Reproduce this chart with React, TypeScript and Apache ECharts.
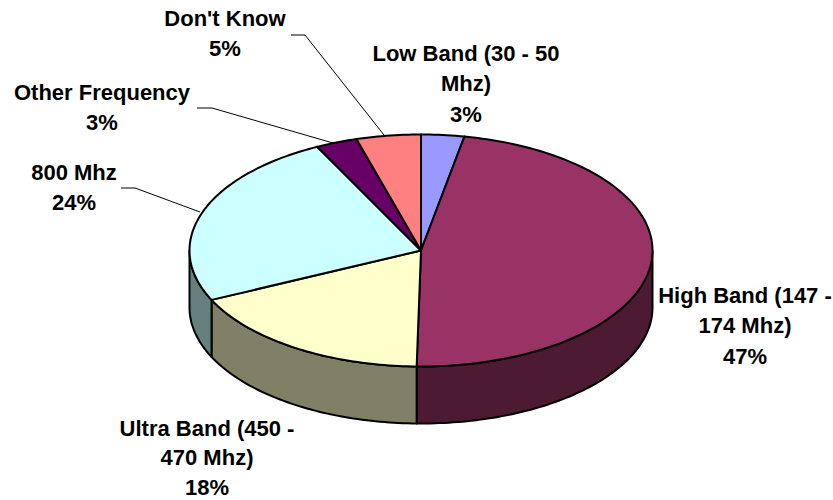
import React, { useEffect, useRef } from "react";
import * as echarts from "echarts";

const categories = ["Low Band (30 - 50\nMhz)", "High Band (147 -\n174 Mhz)", "Ultra Band (450 -\n470 Mhz)", "800 Mhz", "Other Frequency", "Don't Know"];
const values = [3, 47.3, 17.7, 24.6, 2.9, 4.5];
const percentLabels = ["3%", "47%", "18%", "24%", "3%", "5%"];
const topColors = ["#9999FF", "#993366", "#FFFFCC", "#CCFFFF", "#660066", "#FF8080"];
const sideColors = ["#4D4D80", "#4D1A33", "#808066", "#668080", "#330033", "#804040"];

const CX = 421, CY = 250.5, RX = 231.5, RY = 116, DEPTH = 57;
const labelFirstLine: [number, number][] = [[466, 53], [745, 295], [207, 428], [74, 172], [102, 92], [225, 18]];
const labelLineSteps = [30.5, 30.5, 29.5, 30.5, 30.5, 30.5];
const leaders: number[][][] = [
  [],
  [],
  [],
  [[121, 188], [135, 188], [200, 212]],
  [[197, 108], [212, 108], [333, 143]],
  [[291, 35], [305, 35], [384, 135]],
];

const total = values.reduce((a, b) => a + b, 0);
const bounds: [number, number][] = [];
{
  let acc = 0;
  for (const v of values) {
    bounds.push([(acc / total) * Math.PI * 2, ((acc + v) / total) * Math.PI * 2]);
    acc += v;
  }
}
const pt = (t: number, dy = 0): number[] => [CX + RX * Math.sin(t), CY - RY * Math.cos(t) + dy];
const arc = (a: number, b: number, dy = 0): number[][] => {
  const n = Math.max(2, Math.ceil((b - a) / 0.02));
  const out: number[][] = [];
  for (let i = 0; i <= n; i++) out.push(pt(a + ((b - a) * i) / n, dy));
  return out;
};

const renderTop = (params: any) => {
  const [a, b] = bounds[params.dataIndex];
  return {
    type: "polygon",
    shape: { points: [[CX, CY], ...arc(a, b)] },
    style: { fill: topColors[params.dataIndex], stroke: "#000", lineWidth: 2, lineJoin: "round" },
  };
};
const renderSide = (params: any) => {
  const [a0, b0] = bounds[params.dataIndex];
  const a = Math.max(a0, Math.PI / 2);
  const b = Math.min(b0, Math.PI * 1.5);
  if (b <= a) return { type: "group", children: [] };
  return {
    type: "polygon",
    shape: { points: [...arc(a, b), ...arc(a, b, DEPTH).reverse()] },
    style: { fill: sideColors[params.dataIndex], stroke: "#000", lineWidth: 2, lineJoin: "round" },
  };
};

export default function App() {
  const ref = useRef<HTMLDivElement>(null);
  useEffect(() => {
    const chart = echarts.init(ref.current!, undefined, { renderer: "svg" });
    const data = values.map((v, i) => ({ name: categories[i], value: v }));
    const labelTexts = categories.flatMap((c, i) =>
      [...c.split("\n"), percentLabels[i]].map((line, j) => ({
        type: "text",
        z: 6,
        x: labelFirstLine[i][0],
        y: labelFirstLine[i][1] + j * labelLineSteps[i],
        style: {
          text: line,
          fill: "#000",
          align: "center",
          verticalAlign: "middle",
          font: 'bold 22px "Liberation Sans", Arial, sans-serif',
          lineHeight: 17,
        },
      }))
    );
    chart.setOption({
      animation: false,
      backgroundColor: "#fff",
      series: [
        { type: "custom", coordinateSystem: "none", renderItem: renderSide, data, silent: true, z: 1 },
        { type: "custom", coordinateSystem: "none", renderItem: renderTop, data, silent: true, z: 2 },
      ],
      graphic: [
        ...leaders.filter((l) => l.length).map((points) => ({
          type: "polyline",
          z: 5,
          shape: { points },
          style: { fill: "none", stroke: "#000", lineWidth: 1 },
        })),
        ...labelTexts,
      ],
    });
    return () => chart.dispose();
  }, []);
  return <div ref={ref} style={{ position: "fixed", left: 0, top: 0, width: 833, height: 500 }} />;
}
